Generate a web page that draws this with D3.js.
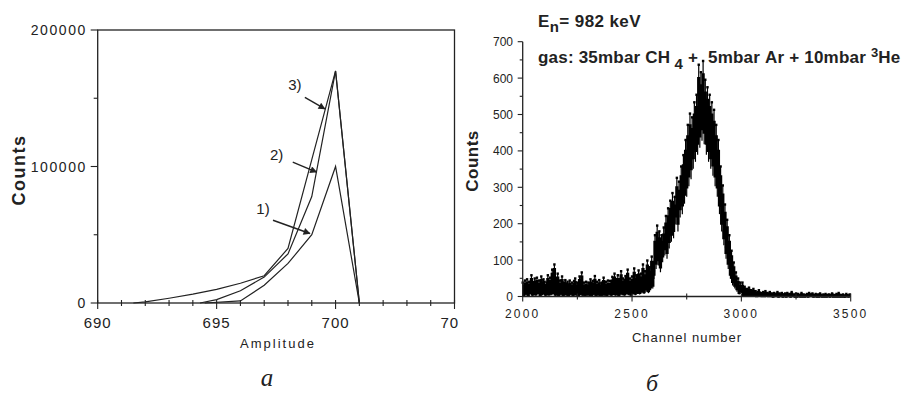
<!DOCTYPE html>
<html>
<head>
<meta charset="utf-8">
<script src="https://cdn.jsdelivr.net/npm/d3@7/dist/d3.min.js"></script>
<style>
  html, body { margin: 0; padding: 0; background: #fff; }
  svg { display: block; }
  text { font-family: "Liberation Sans", Arial, sans-serif; fill: #222; }
</style>
</head>
<body>
<svg id="chart" width="914" height="399"></svg>
<script>
// ---------------- DATA: panel a ----------------
const ampTicks = [690, 695, 700, 705];
const countTicksA = [0, 100000, 200000];
const curve1X = [694.5, 696, 697, 698, 699, 700, 701];
const curve1Y = [0, 1500, 13000, 29000, 50000, 100000, 0];
const curve2X = [694.3, 695, 696, 697, 698, 699, 700, 701];
const curve2Y = [0, 2500, 9000, 19000, 36000, 78000, 170000, 0];
const curve3X = [691.5, 692, 693, 694, 695, 696, 697, 698, 699, 700, 701];
const curve3Y = [0, 800, 3500, 6500, 10000, 14500, 20000, 40000, 105000, 170000, 0];
const curveLabels = ["1)", "2)", "3)"];
// label point, arrow tail, arrow tip (data coordinates)
const labelAmp  = [696.95, 697.52, 698.29];
const labelCnt  = [69400, 108800, 160700];
const tailAmp   = [697.37, 698.2, 698.71];
const tailCnt   = [60600, 103200, 150700];
const tipAmp    = [698.92, 699.2, 699.55];
const tipCnt    = [50900, 95900, 142200];

// ---------------- DATA: panel б ----------------
const channelTicks = [2000, 2500, 3000, 3500];
const countTicksB = [0, 100, 200, 300, 400, 500, 600, 700];
const channelStart = 2000, channelStep = 5;
const spectrum = [
  30, 4, 35, 8, 38, 2, 32, 10, 48, 5, 30, 40, 6, 42, 10, 35, 3, 45, 8, 38,
  32, 5, 30, 48, 6, 42, 8, 62, 10, 75, 5, 40, 52, 4, 35, 8, 45, 3, 30, 36,
  6, 32, 2, 35, 8, 30, 4, 34, 40, 6, 30, 3, 45, 8, 55, 5, 30, 4, 32, 6,
  30, 5, 38, 3, 34, 8, 46, 4, 32, 6, 36, 2, 30, 5, 42, 6, 32, 3, 35, 8,
  34, 5, 44, 8, 52, 6, 36, 48, 4, 38, 58, 8, 40, 6, 46, 10, 62, 8, 40, 5,
  45, 10, 65, 8, 48, 12, 60, 10, 52, 15, 75, 12, 58, 20, 85, 15, 68, 25, 95, 30,
  60, 150, 90, 175, 100, 160, 80, 150, 110, 170, 130, 200, 120, 220, 150, 240, 170, 260, 180, 250,
  220, 300, 200, 290, 240, 330, 250, 360, 280, 400, 300, 440, 330, 470, 350, 460, 380, 500, 400, 520,
  420, 600, 440, 580, 460, 610, 450, 560, 420, 540, 400, 520, 380, 500, 360, 480, 330, 440, 300, 400,
  250, 330, 200, 280, 160, 230, 120, 190, 90, 150, 60, 110, 40, 80, 30, 55, 20, 40, 10, 30,
  15, 30, 4, 20, 3, 15, 2, 18, 4, 12, 2, 15, 3, 10, 1, 8, 12, 2, 6, 1,
  8, 1, 10, 2, 6, 1, 8, 1, 5, 0, 6, 1, 4, 8, 0, 5, 1, 6, 0, 3,
  5, 0, 6, 1, 4, 0, 8, 1, 3, 0, 5, 0, 4, 1, 0, 6, 0, 3, 0, 2,
  4, 0, 6, 1, 3, 5, 0, 2, 4, 0, 3, 0, 5, 1, 0, 3, 0, 4, 0, 2,
  3, 0, 2, 5, 0, 2, 0, 4, 0, 6, 0, 2, 0, 3, 0, 0, 4, 1, 0, 3
];

const svg = d3.select("#chart");
const ink = "#222";
const NB = "\u00A0";

// ================= Panel a =================
const defs = svg.append("defs");
defs.append("clipPath").attr("id", "clipA")
  .append("rect").attr("x", 0).attr("y", 0).attr("width", 459).attr("height", 399);
defs.append("marker")
  .attr("id", "arrow").attr("viewBox", "0 0 10 10")
  .attr("refX", 9).attr("refY", 5)
  .attr("markerWidth", 7).attr("markerHeight", 5)
  .attr("orient", "auto")
  .append("path").attr("d", "M0,0 L10,5 L0,10 Z").attr("fill", ink);

const gA = svg.append("g").attr("clip-path", "url(#clipA)");
const xA = d3.scaleLinear().domain([690, 705]).range([97.7, 454.5]);
const yA = d3.scaleLinear().domain([0, 200000]).range([303, 30]);

// frame
gA.append("rect")
  .attr("x", xA(690)).attr("y", yA(200000))
  .attr("width", xA(705) - xA(690)).attr("height", yA(0) - yA(200000))
  .attr("fill", "none").attr("stroke", ink).attr("stroke-width", 1.3);

// x ticks
d3.range(690, 706, 1).forEach(v => {
  const major = ampTicks.includes(v);
  gA.append("line")
    .attr("x1", xA(v)).attr("x2", xA(v))
    .attr("y1", yA(0) - 3).attr("y2", yA(0) + (major ? 6 : 3))
    .attr("stroke", ink).attr("stroke-width", 1.1);
});
ampTicks.forEach(v => {
  gA.append("text").attr("x", xA(v)).attr("y", 328)
    .attr("text-anchor", "middle").attr("font-size", 15)
    .attr("letter-spacing", 1).text(v);
});
// y ticks
[0, 50000, 100000, 150000, 200000].forEach(v => {
  const major = countTicksA.includes(v);
  gA.append("line")
    .attr("x1", xA(690) - (major ? 7 : 4)).attr("x2", xA(690))
    .attr("y1", yA(v)).attr("y2", yA(v))
    .attr("stroke", ink).attr("stroke-width", 1.1);
});
countTicksA.forEach(v => {
  gA.append("text").attr("x", 87).attr("y", yA(v) + 5)
    .attr("text-anchor", "end").attr("font-size", 14)
    .attr("letter-spacing", 1.6).text(v);
});
// axis titles
gA.append("text").attr("x", 278).attr("y", 348)
  .attr("text-anchor", "middle").attr("font-size", 13)
  .attr("letter-spacing", 2).text("Amplitude");
gA.append("text")
  .attr("transform", "translate(25,170) rotate(-90)")
  .attr("text-anchor", "middle").attr("font-size", 18).attr("font-weight", "bold")
  .attr("letter-spacing", 1.5).text("Counts");

// curves
const lineA = d3.line().x(d => xA(d[0])).y(d => yA(d[1]));
[[curve1X, curve1Y], [curve2X, curve2Y], [curve3X, curve3Y]].forEach(([xs, ys]) => {
  gA.append("path")
    .attr("d", lineA(xs.map((x, i) => [x, ys[i]])))
    .attr("fill", "none").attr("stroke", ink).attr("stroke-width", 1.2);
});
// labels + arrows
curveLabels.forEach((lab, i) => {
  gA.append("text").attr("x", xA(labelAmp[i])).attr("y", yA(labelCnt[i]) + 6)
    .attr("text-anchor", "middle").attr("font-size", 15).text(lab);
  gA.append("line")
    .attr("x1", xA(tailAmp[i])).attr("y1", yA(tailCnt[i]))
    .attr("x2", xA(tipAmp[i])).attr("y2", yA(tipCnt[i]))
    .attr("stroke", ink).attr("stroke-width", 1.4)
    .attr("marker-end", "url(#arrow)");
});
svg.append("text").attr("x", 267).attr("y", 386)
  .attr("text-anchor", "middle").attr("font-size", 25)
  .attr("font-style", "italic")
  .style("font-family", "'Liberation Serif', 'DejaVu Serif', serif")
  .text("а");

// ================= Panel б =================
const gB = svg.append("g");
const xB = d3.scaleLinear().domain([2000, 3500]).range([522.7, 850.7]);
const yB = d3.scaleLinear().domain([0, 700]).range([296.5, 41.7]);

// spectrum: step line + error bars + point marks
const specData = spectrum.map((c, i) => [channelStart + i * channelStep, c]);
const stepLine = d3.line().curve(d3.curveStep).x(d => xB(d[0])).y(d => yB(d[1]));
gB.selectAll("line.err").data(specData).join("line")
  .attr("class", "err")
  .attr("x1", d => xB(d[0])).attr("x2", d => xB(d[0]))
  .attr("y1", d => yB(Math.max(0, d[1] - 1.5 * Math.sqrt(d[1]))))
  .attr("y2", d => yB(d[1] + 1.5 * Math.sqrt(d[1])))
  .attr("stroke", "#000").attr("stroke-width", 1.2);
gB.append("path").attr("d", stepLine(specData))
  .attr("fill", "none").attr("stroke", "#000").attr("stroke-width", 2.2);
gB.selectAll("rect.pt").data(specData).join("rect")
  .attr("class", "pt")
  .attr("x", d => xB(d[0]) - 1.2).attr("y", d => yB(d[1] + 1.5 * Math.sqrt(d[1])) - 1.2)
  .attr("width", 2.4).attr("height", 2.4).attr("fill", "#000");

// axes lines
gB.append("line").attr("x1", xB(2000)).attr("x2", xB(3500))
  .attr("y1", yB(0)).attr("y2", yB(0)).attr("stroke", ink).attr("stroke-width", 1.3);
gB.append("line").attr("x1", xB(2000)).attr("x2", xB(2000))
  .attr("y1", yB(0)).attr("y2", yB(700)).attr("stroke", ink).attr("stroke-width", 1.3);
// x ticks
d3.range(2000, 3501, 250).forEach(v => {
  const major = channelTicks.includes(v);
  gB.append("line").attr("x1", xB(v)).attr("x2", xB(v))
    .attr("y1", yB(0) - 3).attr("y2", yB(0) + (major ? 5 : 3))
    .attr("stroke", ink).attr("stroke-width", 1.1);
});
channelTicks.forEach(v => {
  gB.append("text").attr("x", xB(v)).attr("y", 318)
    .attr("text-anchor", "middle").attr("font-size", 12)
    .attr("letter-spacing", 2.2).text(v);
});
// y ticks
d3.range(0, 701, 50).forEach(v => {
  const major = countTicksB.includes(v);
  gB.append("line").attr("x1", xB(2000) - (major ? 5 : 3)).attr("x2", xB(2000))
    .attr("y1", yB(v)).attr("y2", yB(v))
    .attr("stroke", ink).attr("stroke-width", 1.1);
});
countTicksB.forEach(v => {
  gB.append("text").attr("x", 513).attr("y", yB(v) + 4.5)
    .attr("text-anchor", "end").attr("font-size", 12).text(v);
});
gB.append("text").attr("x", 687).attr("y", 342)
  .attr("text-anchor", "middle").attr("font-size", 13)
  .attr("letter-spacing", 1).text("Channel number");
gB.append("text")
  .attr("transform", "translate(478,161) rotate(-90)")
  .attr("text-anchor", "middle").attr("font-size", 17).attr("font-weight", "bold")
  .attr("letter-spacing", 0.5).text("Counts");

// annotations
const t1 = gB.append("text").attr("x", 538).attr("y", 27)
  .attr("font-size", 17).attr("font-weight", "bold").attr("letter-spacing", 0.4);
t1.append("tspan").text("E");
t1.append("tspan").attr("dy", 5).attr("font-size", 15).text("n");
t1.append("tspan").attr("dy", -5).text("=" + NB + "982" + NB + "keV");

const t2 = gB.append("text").attr("x", 538).attr("y", 63)
  .attr("font-size", 17).attr("font-weight", "bold").attr("letter-spacing", 0.2);
t2.append("tspan").text("gas:" + NB + "35mbar" + NB + "CH");
t2.append("tspan").attr("dy", 6).attr("font-size", 15).text(NB + "4");
t2.append("tspan").attr("dy", -6).text(NB + "+" + NB + NB + "5mbar" + NB + "Ar" + NB + "+" + NB + "10mbar" + NB);
t2.append("tspan").attr("dy", -6).attr("font-size", 13).text("3");
t2.append("tspan").attr("dy", 6).text("He");

svg.append("text").attr("x", 652).attr("y", 391)
  .attr("text-anchor", "middle").attr("font-size", 24)
  .attr("font-style", "italic")
  .style("font-family", "'Liberation Serif', 'DejaVu Serif', serif")
  .text("б");
</script>
</body>
</html>
